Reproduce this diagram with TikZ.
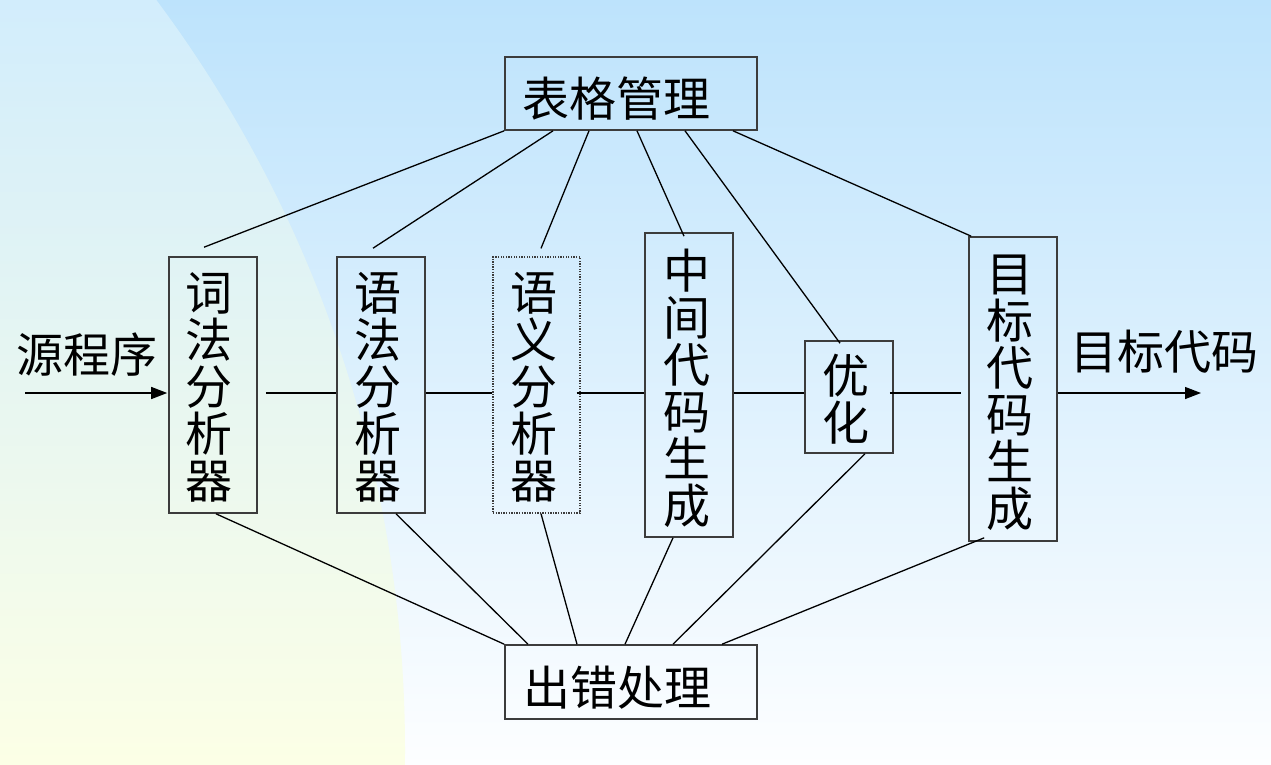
\documentclass[tikz,border=0pt]{standalone}
\usepackage{fontspec}
\newfontfamily\cjk{Noto Sans CJK SC}
\usetikzlibrary{arrows.meta}
\definecolor{bgtop}{HTML}{BDE3FC}
\definecolor{bgmid}{HTML}{DDF0FD}
\definecolor{bgbot}{HTML}{FDFEFF}
\definecolor{ctop}{HTML}{D2EDFC}
\definecolor{cmid}{HTML}{E5F4F5}
\definecolor{cbot}{HTML}{FCFFE6}
\definecolor{boxcol}{HTML}{3C3C3C}
\begin{document}
\begin{tikzpicture}[x=1pt,y=-1pt,
  box/.style={draw=boxcol, line width=1.6pt, inner sep=0pt, rectangle},
  dotbox/.style={draw=boxcol, line width=1.3pt, dash pattern=on 1.3pt off 1.3pt, inner sep=0pt, rectangle},
  txt/.style={font=\cjk\fontsize{47}{47}\selectfont, inner sep=0pt, align=center, text=black},
  conn/.style={draw=black, line width=1.3pt},
  arr/.style={conn, -{Triangle[length=16pt,width=12pt]}}]
\useasboundingbox (0,0) rectangle (1271,764);
\shade[top color=bgtop, middle color=bgmid, bottom color=bgbot] (0,0) rectangle (1271,764);
\begin{scope}
  \clip (-850,750) circle[radius=1255pt];
  \shade[top color=ctop, middle color=cmid, bottom color=cbot] (0,0) rectangle (420,764);
\end{scope}

% boxes
\node[box, minimum width=252pt, minimum height=73pt] (tab) at (631,93.5) {};
\node[box, minimum width=252pt, minimum height=74pt] (err) at (631,682) {};
\node[box, minimum width=88pt, minimum height=256pt] (lex) at (213,385) {};
\node[box, minimum width=88pt, minimum height=256pt] (syn) at (381,385) {};
\node[dotbox, minimum width=87pt, minimum height=256pt] (sem) at (536.5,385) {};
\node[box, minimum width=88pt, minimum height=304pt] (mid) at (689,385) {};
\node[box, minimum width=88pt, minimum height=112pt] (opt) at (849,397) {};
\node[box, minimum width=88pt, minimum height=304pt] (tgt) at (1013,389) {};

% texts
\node[txt] (tabt) at (616.5,98.5) {表格管理};
\node[txt] (errt) at (617.5,688) {出错处理};
\node[txt] (lext) at (209,387.5) {词\\法\\分\\析\\器};
\node[txt] (synt) at (378,387.5) {语\\法\\分\\析\\器};
\node[txt] (semt) at (534,387) {语\\义\\分\\析\\器};
\node[txt] (midt) at (687,388) {中\\间\\代\\码\\生\\成};
\node[txt] (optt) at (845.5,399) {优\\化};
\node[txt] (tgtt) at (1010,393) {目\\标\\代\\码\\生\\成};
\node[txt] (src) at (87,354.5) {源程序};
\node[txt] (dst) at (1164,352) {目标代码};

% main flow
\coordinate (srcin) at (25,393);
\coordinate (dstout) at (1201,393);
\draw[arr] (srcin) -- ([shift={(-1,8)}]lex.west);
\draw[conn] ([shift={(8,8)}]lex.east) -- ([shift={(0,8)}]syn.west);
\draw[conn] ([shift={(0,8)}]syn.east) -- ([shift={(0,8)}]sem.west);
\draw[conn] ([shift={(-4,8)}]sem.east) -- ([shift={(0,8)}]mid.west);
\draw[conn] ([shift={(0,8)}]mid.east) -- ([shift={(0,-4)}]opt.west);
\draw[conn] ([shift={(-4,-4)}]opt.east) -- ([shift={(-7,4)}]tgt.west);
\draw[arr] ([shift={(0,4)}]tgt.east) -- (dstout);

% table management links
\draw[conn] (tab.south west) -- ([shift={(-9,-9)}]lex.north);
\draw[conn] ([shift={(-78,0)}]tab.south) -- ([shift={(-8,-8)}]syn.north);
\draw[conn] ([shift={(-42,0)}]tab.south) -- ([shift={(4.5,-8)}]sem.north);
\draw[conn] ([shift={(6,0)}]tab.south) -- ([shift={(-5,4)}]mid.north);
\draw[conn] ([shift={(54,0)}]tab.south) -- ([shift={(-9,3)}]opt.north);
\draw[conn] ([shift={(102,0)}]tab.south) -- ([shift={(3,0)}]tgt.north west);

% error handling links
\draw[conn] ([shift={(3,0)}]lex.south) -- (err.north west);
\draw[conn] ([shift={(15,0)}]syn.south) -- ([shift={(-103,0)}]err.north);
\draw[conn] ([shift={(4.5,0)}]sem.south) -- ([shift={(-54,0)}]err.north);
\draw[conn] ([shift={(-16,0)}]mid.south) -- ([shift={(-6,0)}]err.north);
\draw[conn] ([shift={(16,0)}]opt.south) -- ([shift={(42,0)}]err.north);
\draw[conn] ([shift={(16,-4)}]tgt.south west) -- ([shift={(91,0)}]err.north);
\end{tikzpicture}
\end{document}
